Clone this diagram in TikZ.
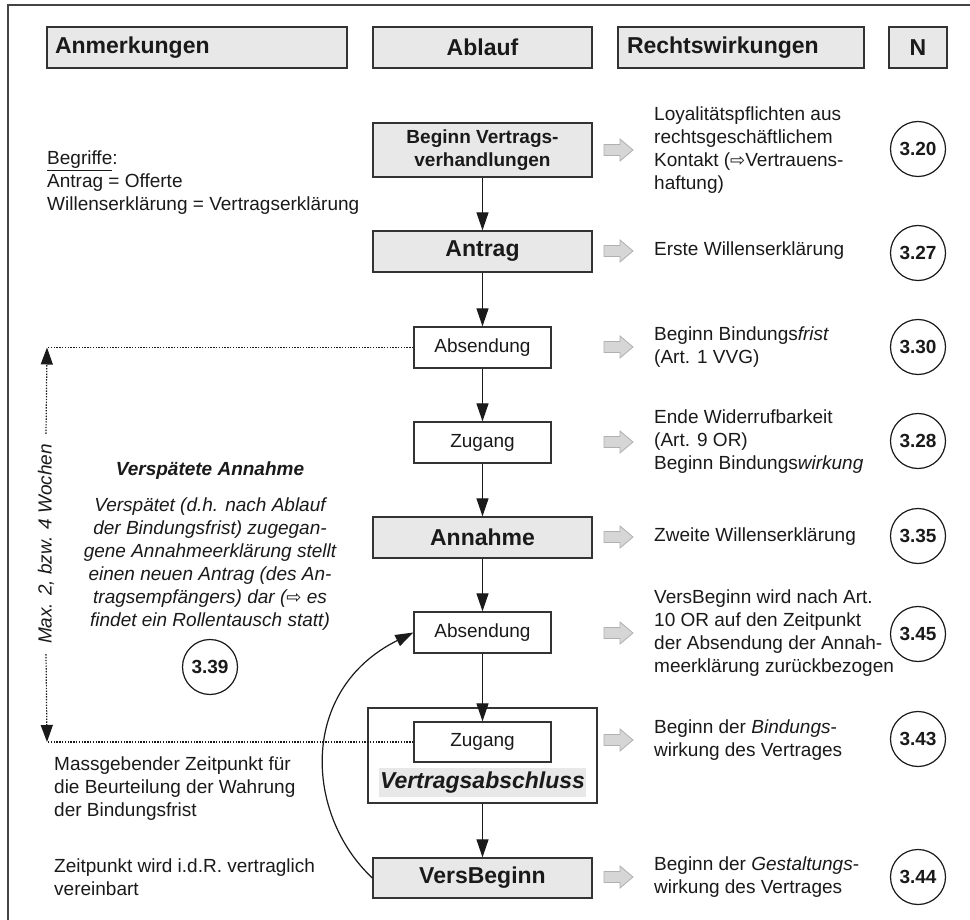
\documentclass[tikz,border=0pt]{standalone}
\usepackage{fontspec}
\setmainfont{Liberation Sans}
\newfontfamily\arrowfont{DejaVu Sans}
\usetikzlibrary{arrows.meta}
\definecolor{boxgray}{HTML}{E8E8E8}
\definecolor{edgecol}{HTML}{333333}
\definecolor{txtcol}{HTML}{1A1A1A}
\definecolor{barfill}{HTML}{D6D6D6}
\definecolor{baredge}{HTML}{B0B0B0}
\definecolor{framecol}{HTML}{444444}
\newcommand\fsn{\fontsize{19}{23}\selectfont}
\newcommand\fsb{\fontsize{23}{27}\selectfont}
\newcommand\warr{{\arrowfont\fontsize{18}{23}\selectfont ⇨}}
\tikzset{
  hbox/.style={draw=edgecol, line width=1.3pt, fill=boxgray, minimum height=41pt, inner sep=0pt, font=\fsb\bfseries},
  fbox/.style={draw=edgecol, line width=1.3pt, minimum height=41pt, inner sep=0pt, align=center},
  graybox/.style={fbox, fill=boxgray, minimum width=219pt, font=\fsb\bfseries},
  whitebox/.style={fbox, fill=white, minimum width=137pt, font=\fsn},
  conn/.style={line width=1.2pt, draw=txtcol, -{Triangle[length=18pt,width=12pt]}},
  dotline/.style={line width=1.2pt, draw=txtcol, dash pattern=on 1.4pt off 1.4pt},
  num/.style={circle, draw=txtcol, line width=1.2pt, minimum size=55pt, inner sep=0pt, font=\fsn\bfseries},
  rtext/.style={anchor=west, align=left, inner sep=0pt, font=\fsn},
  pics/barrow/.style={code={
    \draw[draw=baredge, fill=barfill, line width=0.8pt]
      (-14.5,-5.5) -- (1.5,-5.5) -- (1.5,-11) -- (14.5,0) -- (1.5,11) -- (1.5,5.5) -- (-14.5,5.5) -- cycle;}}
}
\begin{document}
\begin{tikzpicture}[x=1pt, y=-1pt, text=txtcol, font=\fsn]
\useasboundingbox (0,0) rectangle (970,920);
\fill[white] (0,0) rectangle (970,920);
% frame
\draw[framecol, line width=1.8pt] (8,920) -- (8,5) -- (970,5);

% headers
\node[hbox, minimum width=300pt, text width=284pt, align=left] (h1) at (197,47.5) {Anmerkungen};
\node[hbox, minimum width=219pt] (h2) at (482.5,47.5) {Ablauf};
\node[hbox, minimum width=246pt, text width=228pt, align=left] (h3) at (741,47.5) {Rechtswirkungen};
\node[hbox, minimum width=58pt] (h4) at (918,47.5) {N};

% flow
\node[graybox, minimum height=54pt, font=\fsn\bfseries] (b1) at (482.5,150) {Beginn Vertrags-\\verhandlungen};
\node[graybox] (b2) at (482.5,251.5) {Antrag};
\node[whitebox] (b3) at (482.5,347.5) {Absendung};
\node[whitebox] (b4) at (482.5,442.5) {Zugang};
\node[graybox] (b5) at (482.5,537.5) {Annahme};
\node[whitebox] (b6) at (482.5,632.5) {Absendung};
\node[draw=edgecol, line width=1.3pt, fill=white, minimum width=229pt, minimum height=95pt, inner sep=0pt] (vab) at (482.5,755.5) {};
\node[whitebox, minimum height=40pt] (b7) at (482.5,742) {Zugang};
\node[fill=boxgray, minimum width=207pt, minimum height=29pt, inner sep=0pt, font=\fsb\bfseries\itshape] (vabl) at (482.5,782.5) {Vertragsabschluss};
\node[graybox, minimum height=40pt] (b8) at (482.5,878) {VersBeginn};

\draw[conn] (b1) -- (b2);
\draw[conn] (b2) -- (b3);
\draw[conn] (b3) -- (b4);
\draw[conn] (b4) -- (b5);
\draw[conn] (b5) -- (b6);
\draw[conn] (b6) -- (b7);
\draw[conn] (vab) -- (b8);
\draw[conn] (b8.west) .. controls (305,815) and (298,690) .. (b6.west);

% block arrows
\foreach \yy in {150,251,347,442,537,633,740,877} {
  \pic at (618.5,\yy) {barrow};
}

% right texts
\node[rtext] (r1) at (654,150) {Loyalitätspflichten aus\\rechtsgeschäftlichem\\Kontakt (\warr Vertrauens-\\haftung)};
\node[rtext] (r2) at (654,251) {Erste Willenserklärung};
\node[rtext] (r3) at (654,347) {Beginn Bindungs\textit{frist}\\(Art. 1 VVG)};
\node[rtext] (r4) at (654,442) {Ende Widerrufbarkeit\\(Art. 9 OR)\\Beginn Bindungs\textit{wirkung}};
\node[rtext] (r5) at (654,537) {Zweite Willenserklärung};
\node[rtext] (r6) at (654,633) {VersBeginn wird nach Art.\\10 OR auf den Zeitpunkt\\der Absendung der Annah-\\meerklärung zurückbezogen};
\node[rtext] (r7) at (654,740) {Beginn der \textit{Bindungs}-\\wirkung des Vertrages};
\node[rtext] (r8) at (654,877) {Beginn der \textit{Gestaltungs}-\\wirkung des Vertrages};

% numbers
\node[num] (c1) at (918,149) {3.20};
\node[num] (c2) at (918,253) {3.27};
\node[num] (c3) at (918,347) {3.30};
\node[num] (c4) at (918,441) {3.28};
\node[num] (c5) at (918,536) {3.35};
\node[num] (c6) at (918,634) {3.45};
\node[num] (c7) at (918,739) {3.43};
\node[num] (c8) at (918,877) {3.44};

% left column
\node[rtext] (beg) at (47,183) {\underline{Begriffe}:\\Antrag = Offerte\\Willenserklärung = Vertragserklärung};
\node[font=\fsn\bfseries\itshape, inner sep=0pt] (vsa) at (210,471) {Verspätete Annahme};
\node[font=\fsn\itshape, align=center, inner sep=0pt] (vsp) at (210,564.5) {Verspätet (d.h. nach Ablauf\\der Bindungsfrist) zugegan-\\gene Annahmeerklärung stellt\\einen neuen Antrag (des An-\\tragsempfängers) dar (\warr{} es\\findet ein Rollentausch statt)};
\node[num] (c9) at (210,667) {3.39};
\node[rtext] (mas) at (54,789) {Massgebender Zeitpunkt für\\die Beurteilung der Wahrung\\der Bindungsfrist};
\node[rtext] (zei) at (54,877) {Zeitpunkt wird i.d.R. vertraglich\\vereinbart};

% time span
\coordinate (tl) at (47,347.5);
\coordinate (bl) at (47,742);
\node[rotate=90, font=\fsn\itshape, inner xsep=10pt, inner ysep=0pt] (woc) at (46,544) {Max. 2, bzw. 4 Wochen};
\draw[dotline] (b3.west) -- (tl);
\draw[dotline] (b7.west) -- (bl);
\draw[dotline, -{Triangle[length=17pt,width=12pt]}] (woc.east) -- (tl);
\draw[dotline, -{Triangle[length=17pt,width=12pt]}] (woc.west) -- (bl);
\end{tikzpicture}
\end{document}
